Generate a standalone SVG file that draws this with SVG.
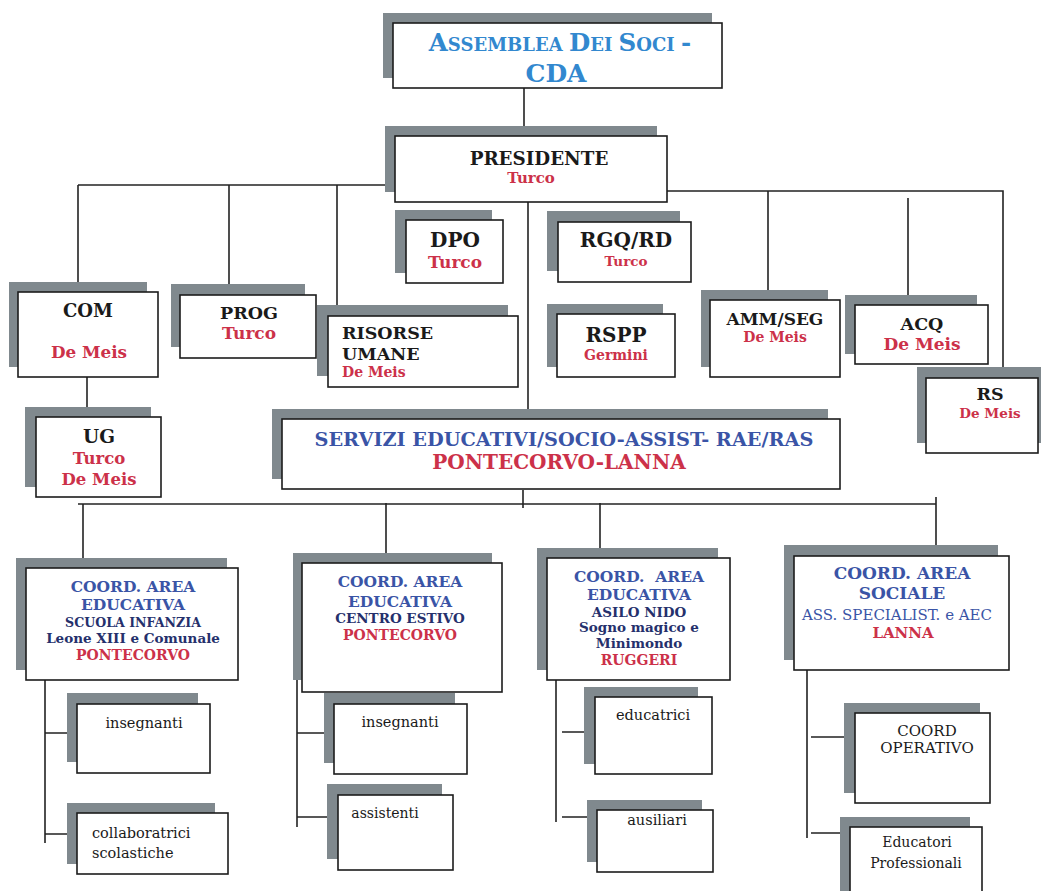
<svg xmlns="http://www.w3.org/2000/svg" width="1041" height="891" viewBox="0 0 1041 891">
<style>
.sh{fill:#80898e}
.bx{fill:#fff;stroke:#1c1c1c;stroke-width:1.6}
.ln{stroke:#222;stroke-width:1.6;fill:none}
text{font-family:'DejaVu Serif','Liberation Serif',serif;font-weight:bold;text-anchor:middle}
.k{fill:#1a1a1a}
.r{fill:#cc3149}
.b{fill:#3a54a6}
.n{fill:#25306c}
.lb{fill:#3288cf}
.nm{font-weight:normal;fill:#1a1a1a}
.bn{font-weight:normal}
.st{text-anchor:start}
</style>
<rect width="1041" height="891" fill="#fff"/>
<g id="connectors" class="ln">
<path d="M524,88 V136"/>
<path d="M78,185 H395"/>
<path d="M667,191 H1003 V378"/>
<path d="M78,185 V292"/>
<path d="M229,185 V295"/>
<path d="M337,185 V316"/>
<path d="M768,191 V300"/>
<path d="M908,198 V305"/>
<path d="M528,202 V419"/>
<path d="M87,377 V417"/>
<path d="M523,490 V508"/>
<path d="M78,504 H936"/>
<path d="M83,504 V568"/>
<path d="M386,503 V563"/>
<path d="M600,503 V558"/>
<path d="M936,497 V556"/>
<path d="M45,680 V843 M45,733 H78 M45,834 H78"/>
<path d="M297,680 V827 M297,733 H334 M297,817 H338"/>
<path d="M556,680 V822 M562,732 H598 M562,817 H598"/>
<path d="M807,670 V838 M811,737 H850 M811,833 H850"/>
</g>
<g id="assemblea">
<rect class="sh" x="383" y="13" width="329" height="65"/>
<rect class="bx" x="393" y="23" width="329" height="65"/>
<text class="lb" x="560" y="51" font-size="24.5">A<tspan font-size="18">SSEMBLEA </tspan>D<tspan font-size="18">EI </tspan>S<tspan font-size="18">OCI </tspan>-</text>
<text class="lb" x="556" y="82" font-size="25">CDA</text>
</g>
<g id="presidente">
<rect class="sh" x="385" y="126" width="272" height="66"/>
<rect class="bx" x="395" y="136" width="272" height="66"/>
<text class="k" x="539" y="165" font-size="18.3">PRESIDENTE</text>
<text class="r" x="531" y="183" font-size="15">Turco</text>
</g>
<g id="dpo">
<rect class="sh" x="395" y="210" width="97" height="63"/>
<rect class="bx" x="406" y="220" width="97" height="63"/>
<text class="k" x="455" y="247" font-size="20">DPO</text>
<text class="r" x="455" y="268" font-size="17">Turco</text>
</g>
<g id="rgq">
<rect class="sh" x="547" y="211" width="133" height="60"/>
<rect class="bx" x="558" y="222" width="133" height="60"/>
<text class="k" x="626" y="247" font-size="20">RGQ/RD</text>
<text class="r" x="626" y="266" font-size="13.5">Turco</text>
</g>
<g id="rspp">
<rect class="sh" x="547" y="304" width="116" height="63"/>
<rect class="bx" x="557" y="314" width="118" height="63"/>
<text class="k" x="616" y="342" font-size="20">RSPP</text>
<text class="r" x="616" y="360" font-size="14">Germini</text>
</g>
<g id="com">
<rect class="sh" x="9" y="282" width="138" height="85"/>
<rect class="bx" x="18" y="292" width="140" height="85"/>
<text class="k" x="88" y="317" font-size="18">COM</text>
<text class="r" x="89" y="358" font-size="16.8">De Meis</text>
</g>
<g id="ug">
<rect class="sh" x="25" y="407" width="126" height="80"/>
<rect class="bx" x="36" y="417" width="125" height="80"/>
<text class="k" x="99" y="443" font-size="18.5">UG</text>
<text class="r" x="99" y="464" font-size="16.5">Turco</text>
<text class="r" x="99" y="485" font-size="16.5">De Meis</text>
</g>
<g id="prog">
<rect class="sh" x="171" y="284" width="134" height="63"/>
<rect class="bx" x="180" y="295" width="136" height="63"/>
<text class="k" x="249" y="319" font-size="17.5">PROG</text>
<text class="r" x="249" y="339" font-size="17">Turco</text>
</g>
<g id="risorse">
<rect class="sh" x="317" y="305" width="191" height="71"/>
<rect class="bx" x="328" y="316" width="190" height="71"/>
<text class="k st" x="342" y="339" font-size="17.5">RISORSE</text>
<text class="k st" x="342" y="360" font-size="17.5">UMANE</text>
<text class="r st" x="342" y="377" font-size="14">De Meis</text>
</g>
<g id="ammseg">
<rect class="sh" x="701" y="290" width="127" height="77"/>
<rect class="bx" x="710" y="300" width="130" height="77"/>
<text class="k" x="775" y="325" font-size="17">AMM/SEG</text>
<text class="r" x="775" y="342" font-size="14">De Meis</text>
</g>
<g id="acq">
<rect class="sh" x="845" y="295" width="132" height="59"/>
<rect class="bx" x="855" y="305" width="133" height="59"/>
<text class="k" x="922" y="330" font-size="17.5">ACQ</text>
<text class="r" x="922" y="350" font-size="17">De Meis</text>
</g>
<g id="rs">
<rect class="sh" x="917" y="367" width="124" height="76"/>
<rect class="bx" x="926" y="378" width="112" height="75"/>
<text class="k" x="990" y="400" font-size="17.5">RS</text>
<text class="r" x="990" y="418" font-size="13.5">De Meis</text>
</g>
<g id="servizi">
<rect class="sh" x="272" y="409" width="556" height="70"/>
<rect class="bx" x="282" y="419" width="558" height="70"/>
<text class="b" x="564" y="446" font-size="19.3">SERVIZI EDUCATIVI/SOCIO-ASSIST- RAE/RAS</text>
<text class="r" x="559" y="469" font-size="20">PONTECORVO-LANNA</text>
</g>
<g id="coord1">
<rect class="sh" x="16" y="558" width="211" height="112"/>
<rect class="bx" x="26" y="568" width="212" height="112"/>
<text class="b" x="133" y="592" font-size="15.5">COORD. AREA</text>
<text class="b" x="133" y="610" font-size="15.5">EDUCATIVA</text>
<text class="n" x="133" y="627" font-size="12.6">SCUOLA INFANZIA</text>
<text class="n" x="133" y="643" font-size="13.5">Leone XIII e Comunale</text>
<text class="r" x="133" y="660" font-size="14">PONTECORVO</text>
</g>
<g id="insegnanti1">
<rect class="sh" x="67" y="693" width="131" height="69"/>
<rect class="bx" x="77" y="704" width="133" height="69"/>
<text class="nm" x="144" y="728" font-size="14.5">insegnanti</text>
</g>
<g id="collaboratrici">
<rect class="sh" x="67" y="803" width="148" height="61"/>
<rect class="bx" x="77" y="813" width="151" height="61"/>
<text class="nm st" x="92" y="838" font-size="14.5">collaboratrici</text>
<text class="nm st" x="92" y="858" font-size="14.5">scolastiche</text>
</g>
<g id="coord2">
<rect class="sh" x="293" y="553" width="199" height="127"/>
<rect class="bx" x="302" y="563" width="200" height="129"/>
<text class="b" x="400" y="587" font-size="15.5">COORD. AREA</text>
<text class="b" x="400" y="607" font-size="15.5">EDUCATIVA</text>
<text class="n" x="400" y="623" font-size="13.5">CENTRO ESTIVO</text>
<text class="r" x="400" y="640" font-size="14">PONTECORVO</text>
</g>
<g id="insegnanti2">
<rect class="sh" x="324" y="693" width="131" height="70"/>
<rect class="bx" x="334" y="704" width="133" height="70"/>
<text class="nm" x="400" y="727" font-size="14.5">insegnanti</text>
</g>
<g id="assistenti">
<rect class="sh" x="327" y="784" width="115" height="75"/>
<rect class="bx" x="338" y="795" width="115" height="75"/>
<text class="nm" x="385" y="818" font-size="14">assistenti</text>
</g>
<g id="coord3">
<rect class="sh" x="537" y="548" width="181" height="122"/>
<rect class="bx" x="547" y="558" width="183" height="122"/>
<text class="b" x="639" y="582" font-size="15.5" xml:space="preserve">COORD.  AREA</text>
<text class="b" x="639" y="600" font-size="15.5">EDUCATIVA</text>
<text class="n" x="639" y="617" font-size="13.5">ASILO NIDO</text>
<text class="n" x="639" y="632" font-size="13.5">Sogno magico e</text>
<text class="n" x="639" y="648" font-size="13.5">Minimondo</text>
<text class="r" x="639" y="665" font-size="14">RUGGERI</text>
</g>
<g id="educatrici">
<rect class="sh" x="584" y="687" width="114" height="77"/>
<rect class="bx" x="595" y="697" width="117" height="77"/>
<text class="nm" x="653" y="720" font-size="14.5">educatrici</text>
</g>
<g id="ausiliari">
<rect class="sh" x="587" y="800" width="115" height="62"/>
<rect class="bx" x="597" y="810" width="116" height="62"/>
<text class="nm" x="657" y="825" font-size="14.5">ausiliari</text>
</g>
<g id="coord4">
<rect class="sh" x="784" y="545" width="214" height="115"/>
<rect class="bx" x="794" y="556" width="215" height="114"/>
<text class="b" x="902" y="579" font-size="17">COORD. AREA</text>
<text class="b" x="902" y="599" font-size="17">SOCIALE</text>
<text class="b bn" x="897" y="620" font-size="15">ASS. SPECIALIST. e AEC</text>
<text class="r" x="903" y="638" font-size="15">LANNA</text>
</g>
<g id="coordoperativo">
<rect class="sh" x="844" y="703" width="136" height="90"/>
<rect class="bx" x="855" y="713" width="135" height="90"/>
<text class="nm" x="927" y="736" font-size="15">COORD</text>
<text class="nm" x="927" y="753" font-size="15">OPERATIVO</text>
</g>
<g id="educatori">
<rect class="sh" x="840" y="817" width="130" height="80"/>
<rect class="bx" x="850" y="827" width="132" height="80"/>
<text class="nm" x="917" y="847" font-size="14">Educatori</text>
<text class="nm" x="916" y="868" font-size="14">Professionali</text>
</g>
</svg>
